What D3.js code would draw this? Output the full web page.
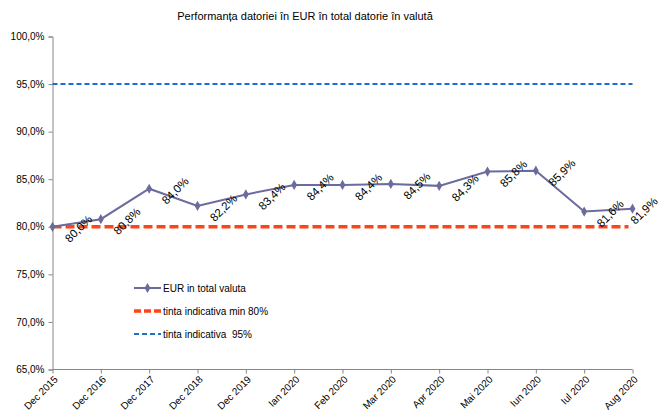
<!DOCTYPE html>
<html>
<head>
<meta charset="utf-8">
<script src="https://cdn.jsdelivr.net/npm/d3@7"></script>
<style>
  body { margin: 0; background: #fff; }
  text { font-family: "Liberation Sans", Arial, sans-serif; fill: #000; }
</style>
</head>
<body>
<script>
// data
let categories = ["Dec 2015", "Dec 2016", "Dec 2017", "Dec 2018", "Dec 2019", "Ian 2020",
  "Feb 2020", "Mar 2020", "Apr 2020", "Mai 2020", "Iun 2020", "Iul 2020", "Aug 2020"];
let eurShare = [80.0, 80.8, 84.0, 82.2, 83.4, 84.4, 84.4, 84.5, 84.3, 85.8, 85.9, 81.6, 81.9];
let targetMin = 80;
let targetMax = 95;
let yTicks = [65, 70, 75, 80, 85, 90, 95, 100];
let legendLabels = ["EUR in total valuta", "tinta indicativa min 80%", "tinta indicativa  95%"];

let width = 661;
let height = 414;

let svg = d3.select("body").append("svg")
  .attr("width", width)
  .attr("height", height);

let x = d3.scalePoint().domain(categories).range([52.5, 632.5]);
let y = d3.scaleLinear().domain([65, 100]).range([369.5, 36.5]);

let fmt = (v) => v.toFixed(1).replace(".", ",") + "%";

// title
svg.append("text")
  .attr("x", 305)
  .attr("y", 20)
  .attr("text-anchor", "middle")
  .style("font-size", "11px")
  .text("Performanța datoriei în EUR în total datorie în valută");

// y axis
let yAxis = svg.append("g")
  .attr("transform", "translate(52.5,0)")
  .call(d3.axisLeft(y).tickValues(yTicks).tickSize(4).tickPadding(4).tickFormat(fmt));
yAxis.selectAll("text").style("font-size", "10px").attr("fill", "#000");
yAxis.selectAll("line, path").attr("stroke", "#868686");

// x axis
let xAxis = svg.append("g")
  .attr("transform", "translate(0,369.5)")
  .call(d3.axisBottom(x).tickSize(4).tickSizeOuter(0));
xAxis.select("path").attr("stroke", "#868686").attr("d", "M52.5,0H632.5");
xAxis.selectAll("line").attr("stroke", "#868686");
xAxis.selectAll("text")
  .style("font-size", "10px")
  .attr("fill", "#000")
  .attr("text-anchor", "end")
  .attr("y", 0)
  .attr("dy", "0.35em")
  .attr("transform", "translate(3,8) rotate(-45)");

// target lines
svg.append("line")
  .attr("x1", x(categories[0])).attr("x2", x(categories[categories.length - 1]))
  .attr("y1", y(targetMax)).attr("y2", y(targetMax))
  .attr("stroke", "#1B6FCF")
  .attr("stroke-width", 2)
  .attr("stroke-dasharray", "5,3");

svg.append("line")
  .attr("x1", x(categories[0])).attr("x2", x(categories[categories.length - 1]) - 4)
  .attr("y1", y(targetMin)).attr("y2", y(targetMin))
  .attr("stroke", "#FF4419")
  .attr("stroke-width", 3.5)
  .attr("stroke-dasharray", "9,4");

// series
let line = d3.line()
  .x((d, i) => x(categories[i]))
  .y((d) => y(d));

svg.append("path")
  .datum(eurShare)
  .attr("fill", "none")
  .attr("stroke", "#6B6B9E")
  .attr("stroke-width", 2)
  .attr("d", line);

let diamond = d3.symbol().type(d3.symbolDiamond).size(30);

svg.append("g")
  .selectAll("path")
  .data(eurShare)
  .enter()
  .append("path")
  .attr("d", diamond)
  .attr("fill", "#6B6B9E")
  .attr("transform", (d, i) => `translate(${x(categories[i])},${y(d)})`);

// rotated value labels, right of each point (last one pulled in to stay on the page)
svg.append("g")
  .selectAll("text")
  .data(eurShare)
  .enter()
  .append("text")
  .attr("text-anchor", "middle")
  .attr("dominant-baseline", "central")
  .style("font-size", "11.5px")
  .attr("transform", (d, i) => {
    let cx = Math.min(x(categories[i]) + 26, width - 17);
    return `translate(${cx},${y(d) + 2}) rotate(-45)`;
  })
  .text(fmt);

// legend
let legend = svg.append("g").attr("transform", "translate(134,0)");
let rows = [288, 311, 334];

legend.append("line")
  .attr("x1", 0).attr("x2", 27).attr("y1", rows[0]).attr("y2", rows[0])
  .attr("stroke", "#6B6B9E").attr("stroke-width", 2);
legend.append("path")
  .attr("d", diamond)
  .attr("fill", "#6B6B9E")
  .attr("transform", `translate(13.5,${rows[0]})`);

legend.append("line")
  .attr("x1", 0).attr("x2", 27).attr("y1", rows[1]).attr("y2", rows[1])
  .attr("stroke", "#FF4419").attr("stroke-width", 3.5).attr("stroke-dasharray", "7,3");

legend.append("line")
  .attr("x1", 0).attr("x2", 27).attr("y1", rows[2]).attr("y2", rows[2])
  .attr("stroke", "#1B6FCF").attr("stroke-width", 2).attr("stroke-dasharray", "5,3");

legend.selectAll("text.lbl")
  .data(legendLabels)
  .enter()
  .append("text")
  .attr("class", "lbl")
  .attr("x", 29)
  .attr("y", (d, i) => rows[i])
  .attr("dominant-baseline", "central")
  .style("font-size", "10px")
  .style("white-space", "pre")
  .attr("xml:space", "preserve")
  .text((d) => d);
</script>
</body>
</html>
